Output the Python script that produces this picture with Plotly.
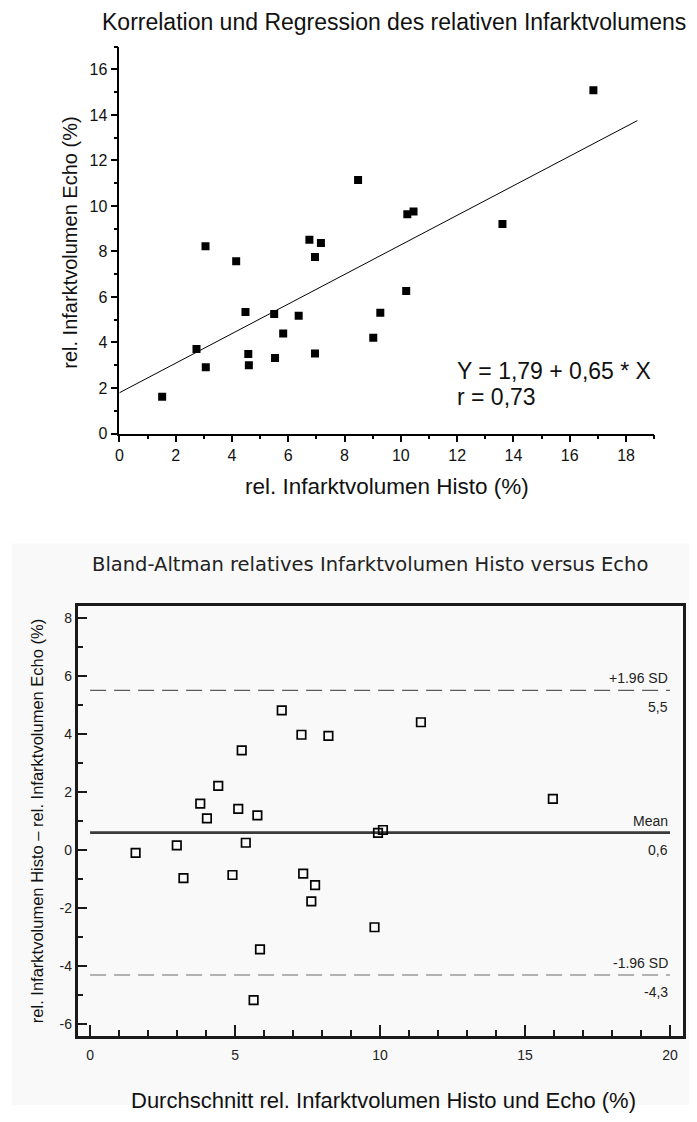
import plotly.graph_objects as go

W, H = 697, 1122
PAGE_MARGIN = 8                  # default <body> margin of the written page
FW, FH = W - 2 * PAGE_MARGIN, H - 2 * PAGE_MARGIN

# ---------------- data ----------------
histo = [1.52, 3.07, 2.74, 4.60, 4.58, 5.53, 4.48, 5.82, 6.95, 5.50, 6.37, 9.27,
         6.95, 7.16, 10.19, 10.23, 10.45, 16.84, 9.02, 13.61, 6.75, 8.48, 4.15, 3.06]
echo = [1.62, 2.91, 3.71, 3.00, 3.49, 3.32, 5.34, 4.40, 3.52, 5.25, 5.18, 5.31,
        7.76, 8.37, 6.26, 9.64, 9.76, 15.08, 4.21, 9.21, 8.52, 11.14, 7.57, 8.23]

ba_mean = [1.57, 2.99, 3.22, 3.80, 4.03, 4.42, 4.91, 5.11, 5.23, 5.37, 5.77, 7.29,
           7.35, 7.76, 8.22, 9.93, 10.10, 15.96, 6.61, 11.41, 7.63, 9.81, 5.86, 5.64]
ba_diff = [-0.10, 0.16, -0.97, 1.60, 1.09, 2.21, -0.86, 1.42, 3.43, 0.25, 1.19, 3.97,
           -0.81, -1.21, 3.93, 0.59, 0.69, 1.76, 4.81, 4.40, -1.77, -2.66, -3.42, -5.17]

reg_intercept = 1.79
reg_slope = 0.65
reg_x = [0, 18.4]

mean_diff = 0.6
upper_loa = 5.5
lower_loa = -4.3
loa_x = [0, 20]

ba_xticks = [0, 5, 10, 15, 20]
ba_yticks = [-6, -4, -2, 0, 2, 4, 6, 8]
ba_yticktext = ["-6", "-4", "-2", "0", "2", "4", "6", "8"]

# ---------------- helpers (page pixels -> paper fraction) ----------------
def px(x):
    return (x - PAGE_MARGIN) / FW

def py(y):
    return 1 - (y - PAGE_MARGIN) / FH

ARIAL = "Liberation Sans, Arial, sans-serif"

fig = go.Figure()

# ---- top: correlation ----
fig.add_trace(go.Scatter(
    x=histo, y=echo, mode="markers",
    marker=dict(symbol="square", size=8, color="black", line=dict(width=0)),
    xaxis="x", yaxis="y", showlegend=False, hoverinfo="x+y"))
fig.add_trace(go.Scatter(
    x=reg_x, y=[reg_intercept + reg_slope * v for v in reg_x], mode="lines",
    line=dict(color="black", width=1),
    xaxis="x", yaxis="y", showlegend=False, hoverinfo="skip"))

# ---- bottom: Bland-Altman ----
fig.add_trace(go.Scatter(
    x=loa_x, y=[upper_loa, upper_loa], mode="lines",
    line=dict(color="#333333", width=1, dash="16px,8px"),
    xaxis="x2", yaxis="y2", showlegend=False, hoverinfo="skip"))
fig.add_trace(go.Scatter(
    x=loa_x, y=[lower_loa, lower_loa], mode="lines",
    line=dict(color="#9a9a9a", width=1.5, dash="16px,8px"),
    xaxis="x2", yaxis="y2", showlegend=False, hoverinfo="skip"))
fig.add_trace(go.Scatter(
    x=loa_x, y=[mean_diff, mean_diff], mode="lines",
    line=dict(color="#3a3a3a", width=2.6),
    xaxis="x2", yaxis="y2", showlegend=False, hoverinfo="skip"))
fig.add_trace(go.Scatter(
    x=ba_mean, y=ba_diff, mode="markers",
    marker=dict(symbol="square-open", size=8.5, color="black", line=dict(width=1.7, color="black")),
    xaxis="x2", yaxis="y2", showlegend=False, hoverinfo="x+y"))

tick_top = dict(family=ARIAL, size=16, color="#111111")
tick_bot = dict(family=ARIAL, size=14, color="#222222")

fig.update_layout(
    width=FW, height=FH,
    margin=dict(l=0, r=0, t=0, b=0),
    paper_bgcolor="white",
    plot_bgcolor="rgba(0,0,0,0)",
    showlegend=False,
    xaxis=dict(
        domain=[px(116), px(654)], anchor="y", range=[0, 19],
        showline=True, linecolor="black", linewidth=1.5,
        ticks="outside", ticklen=7, tickwidth=1.5, tickcolor="black",
        tick0=0, dtick=2,
        minor=dict(ticks="outside", ticklen=4, tickwidth=1.5, tickcolor="black", dtick=1, tick0=0, showgrid=False),
        showgrid=False, zeroline=False, tickfont=tick_top),
    yaxis=dict(
        domain=[py(437), py(47)], anchor="x", range=[0, 17],
        showline=True, linecolor="black", linewidth=1.5,
        ticks="outside", ticklen=7, tickwidth=1.5, tickcolor="black",
        tick0=0, dtick=2,
        minor=dict(ticks="outside", ticklen=4, tickwidth=1.5, tickcolor="black", dtick=1, tick0=0, showgrid=False),
        showgrid=False, zeroline=False, tickfont=tick_top),
    xaxis2=dict(
        domain=[px(74), px(683)], anchor="y2", range=[-0.43, 20.45],
        showline=True, mirror=True, linecolor="#1a1a1a", linewidth=2.5,
        ticks="inside", ticklen=11, tickwidth=1.5, tickcolor="#1a1a1a",
        tickvals=ba_xticks, ticklabelstandoff=5,
        minor=dict(ticks="inside", ticklen=6, tickwidth=1.5, tickcolor="#1a1a1a", dtick=1, tick0=0, showgrid=False),
        showgrid=False, zeroline=False, tickfont=tick_bot),
    yaxis2=dict(
        domain=[py(1044), py(611)], anchor="x2", range=[-6.39, 8.4],
        showline=True, mirror=True, linecolor="#1a1a1a", linewidth=2.5,
        ticks="inside", ticklen=10, tickwidth=1.5, tickcolor="#1a1a1a",
        tickvals=ba_yticks, ticktext=ba_yticktext,
        minor=dict(ticks="inside", ticklen=6, tickwidth=1.5, tickcolor="#1a1a1a", dtick=1, tick0=0, showgrid=False),
        showgrid=False, zeroline=False, tickfont=tick_bot),
    shapes=[dict(type="rect", xref="paper", yref="paper", layer="below",
                 x0=0, x1=1, y0=0, y1=py(548),
                 fillcolor="#f9f9f9", line=dict(width=0))],
)

ann = []
# top chart texts
ann.append(dict(text="Korrelation und Regression des relativen Infarktvolumens",
                x=px(392), y=py(22), xref="paper", yref="paper", showarrow=False,
                xanchor="center", yanchor="middle", font=dict(family=ARIAL, size=23, color="#111111")))
ann.append(dict(text="rel. Infarktvolumen Histo (%)",
                x=px(385), y=py(490), xref="paper", yref="paper", showarrow=False,
                xanchor="center", yanchor="middle", font=dict(family=ARIAL, size=22.5, color="#111111")))
ann.append(dict(text="rel. Infarktvolumen Echo (%)",
                x=px(66), y=py(245), xref="paper", yref="paper", showarrow=False, textangle=-90,
                xanchor="center", yanchor="middle", font=dict(family=ARIAL, size=20, color="#111111")))
ann.append(dict(text="Y = 1,79 + 0,65 * X", x=11.92, y=2.75, xref="x", yref="y", showarrow=False,
                xanchor="left", yanchor="middle", font=dict(family=ARIAL, size=23, color="#111111")))
ann.append(dict(text="r = 0,73", x=11.92, y=1.61, xref="x", yref="y", showarrow=False,
                xanchor="left", yanchor="middle", font=dict(family=ARIAL, size=23, color="#111111")))

# bottom chart texts
ann.append(dict(text="Bland-Altman relatives Infarktvolumen Histo versus Echo",
                x=px(368), y=py(569), xref="paper", yref="paper", showarrow=False,
                xanchor="center", yanchor="middle",
                font=dict(family="DejaVu Sans, Verdana, sans-serif", size=19.5, color="#222222")))
ann.append(dict(text="Durchschnitt rel. Infarktvolumen Histo und Echo (%)",
                x=px(382), y=py(1109), xref="paper", yref="paper", showarrow=False,
                xanchor="center", yanchor="middle", font=dict(family=ARIAL, size=22, color="#111111")))
ann.append(dict(text="rel. Infarktvolumen Histo \u2013 rel. Infarktvolumen Echo (%)",
                x=px(33), y=py(828), xref="paper", yref="paper", showarrow=False, textangle=-90,
                xanchor="center", yanchor="middle", font=dict(family=ARIAL, size=16.5, color="#111111")))

line_labels = [("+1.96 SD", "5,5", upper_loa), ("Mean", "0,6", mean_diff), ("-1.96 SD", "-4,3", lower_loa)]
for above, below, yv in line_labels:
    ann.append(dict(text=above, x=20, y=yv, xref="x2", yref="y2", showarrow=False,
                    xanchor="right", yanchor="bottom", yshift=2,
                    font=dict(family=ARIAL, size=14, color="#222222")))
    ann.append(dict(text=below, x=20, y=yv, xref="x2", yref="y2", showarrow=False,
                    xanchor="right", yanchor="top", yshift=-7,
                    font=dict(family=ARIAL, size=14, color="#222222")))

fig.update_layout(annotations=ann)

fig.write_html("out.html")
